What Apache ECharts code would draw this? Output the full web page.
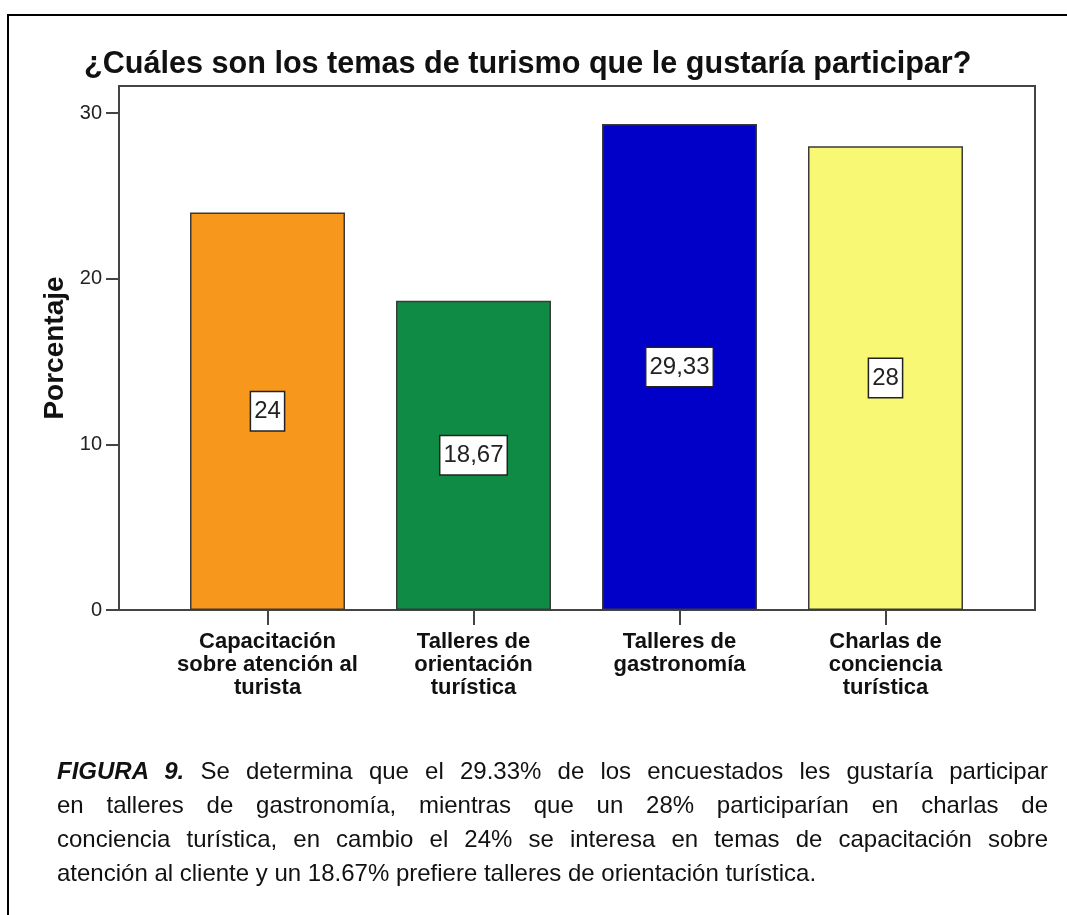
<!DOCTYPE html>
<html>
<head>
<meta charset="utf-8">
<script src="https://cdn.jsdelivr.net/npm/echarts@6/dist/echarts.min.js"></script>
<style>
    body { margin: 0; background: #fff; }
    #frame { position: absolute; left: 7px; top: 14px; width: 1070px; height: 910px;
             border-left: 2px solid #000; border-top: 2px solid #000; }
    #main { position: absolute; left: 0; top: 0; width: 1067px; height: 915px; }
    #caption { position: absolute; left: 57px; top: 754px; width: 991px;
               font-family: "Liberation Sans", Arial, sans-serif; font-size: 24px;
               line-height: 34px; color: #111; }
    #caption div { white-space: nowrap; }
    #caption .j { text-align: justify; text-align-last: justify; }
</style>
</head>
<body>
<div id="frame"></div>
<div id="main"></div>
<div id="caption">
    <div class="j"><b><i>FIGURA 9.</i></b> Se determina que el 29.33% de los encuestados les gustaría participar</div>
    <div class="j">en talleres de gastronomía, mientras que un 28% participarían en charlas de</div>
    <div class="j">conciencia turística, en cambio el 24% se interesa en temas de capacitación sobre</div>
    <div>atención al cliente y un 18.67% prefiere talleres de orientación turística.</div>
</div>

<script>
    // datos
    let categorias = ['Capacitación\nsobre atención al\nturista', 'Talleres de\norientación\nturística',
                      'Talleres de\ngastronomía', 'Charlas de\nconciencia\nturística'];
    let porcentajes = [24, 18.67, 29.33, 28];
    let colores = ['#F7981D', '#0F8B45', '#0000C8', '#F9F874'];
    let ticksY = [0, 10, 20, 30];

    let fuente = '"Liberation Sans", Arial, sans-serif';
    let yMax = 31.63;

    let myChart = echarts.init(document.getElementById('main'));
    let option = {
        animation: false,
        title: {
            text: '¿Cuáles son los temas de turismo que le gustaría participar?',
            left: 79,
            top: 44,
            textStyle: { fontFamily: fuente, fontSize: 30.6, fontWeight: 'bold', color: '#111' }
        },
        grid: [
            { left: 119, right: 32, top: 86, bottom: 305, show: true, borderColor: '#444', borderWidth: 2 },
            { left: 164.5, right: 78.5, top: 86, bottom: 305 }
        ],
        xAxis: [
            { gridIndex: 0, type: 'value', show: false },
            {
                gridIndex: 1, type: 'category', data: categorias,
                axisLine: { show: false },
                axisTick: { show: true, alignWithLabel: true, length: 15, lineStyle: { color: '#444', width: 2 } },
                axisLabel: { margin: 20, fontFamily: fuente, fontSize: 22, fontWeight: 'bold',
                             color: '#111', lineHeight: 23, interval: 0 }
            }
        ],
        yAxis: [
            {
                gridIndex: 0, type: 'value', min: 0, max: yMax, interval: 10,
                name: 'Porcentaje', nameLocation: 'middle', nameGap: 50,
                nameTextStyle: { fontFamily: fuente, fontSize: 28, fontWeight: 'bold', color: '#111' },
                axisLine: { show: true, lineStyle: { color: '#444', width: 2 } },
                axisTick: { show: true, length: 13, customValues: ticksY, lineStyle: { color: '#444', width: 2 } },
                axisLabel: { margin: 17, customValues: ticksY, fontFamily: fuente, fontSize: 20, color: '#222',
                             formatter: function (v) { return v % 10 === 0 ? v : ''; } },
                splitLine: { show: false }
            },
            { gridIndex: 1, type: 'value', min: 0, max: yMax, show: false, splitLine: { show: false } }
        ],
        series: [{
            name: 'Porcentaje',
            type: 'bar',
            xAxisIndex: 1,
            yAxisIndex: 1,
            barWidth: 155,
            data: porcentajes.map(function (v, i) {
                return { value: v, itemStyle: { color: colores[i] } };
            }),
            itemStyle: { borderColor: '#3a3a3a', borderWidth: 1.5 },
            label: {
                show: true,
                position: 'inside',
                formatter: function (p) { return String(p.value).replace('.', ','); },
                fontFamily: fuente,
                fontSize: 24,
                color: '#222',
                backgroundColor: '#fff',
                borderColor: '#222',
                borderWidth: 1.5,
                padding: [7, 3]
            }
        }]
    };
    myChart.setOption(option);
</script>
</body>
</html>
